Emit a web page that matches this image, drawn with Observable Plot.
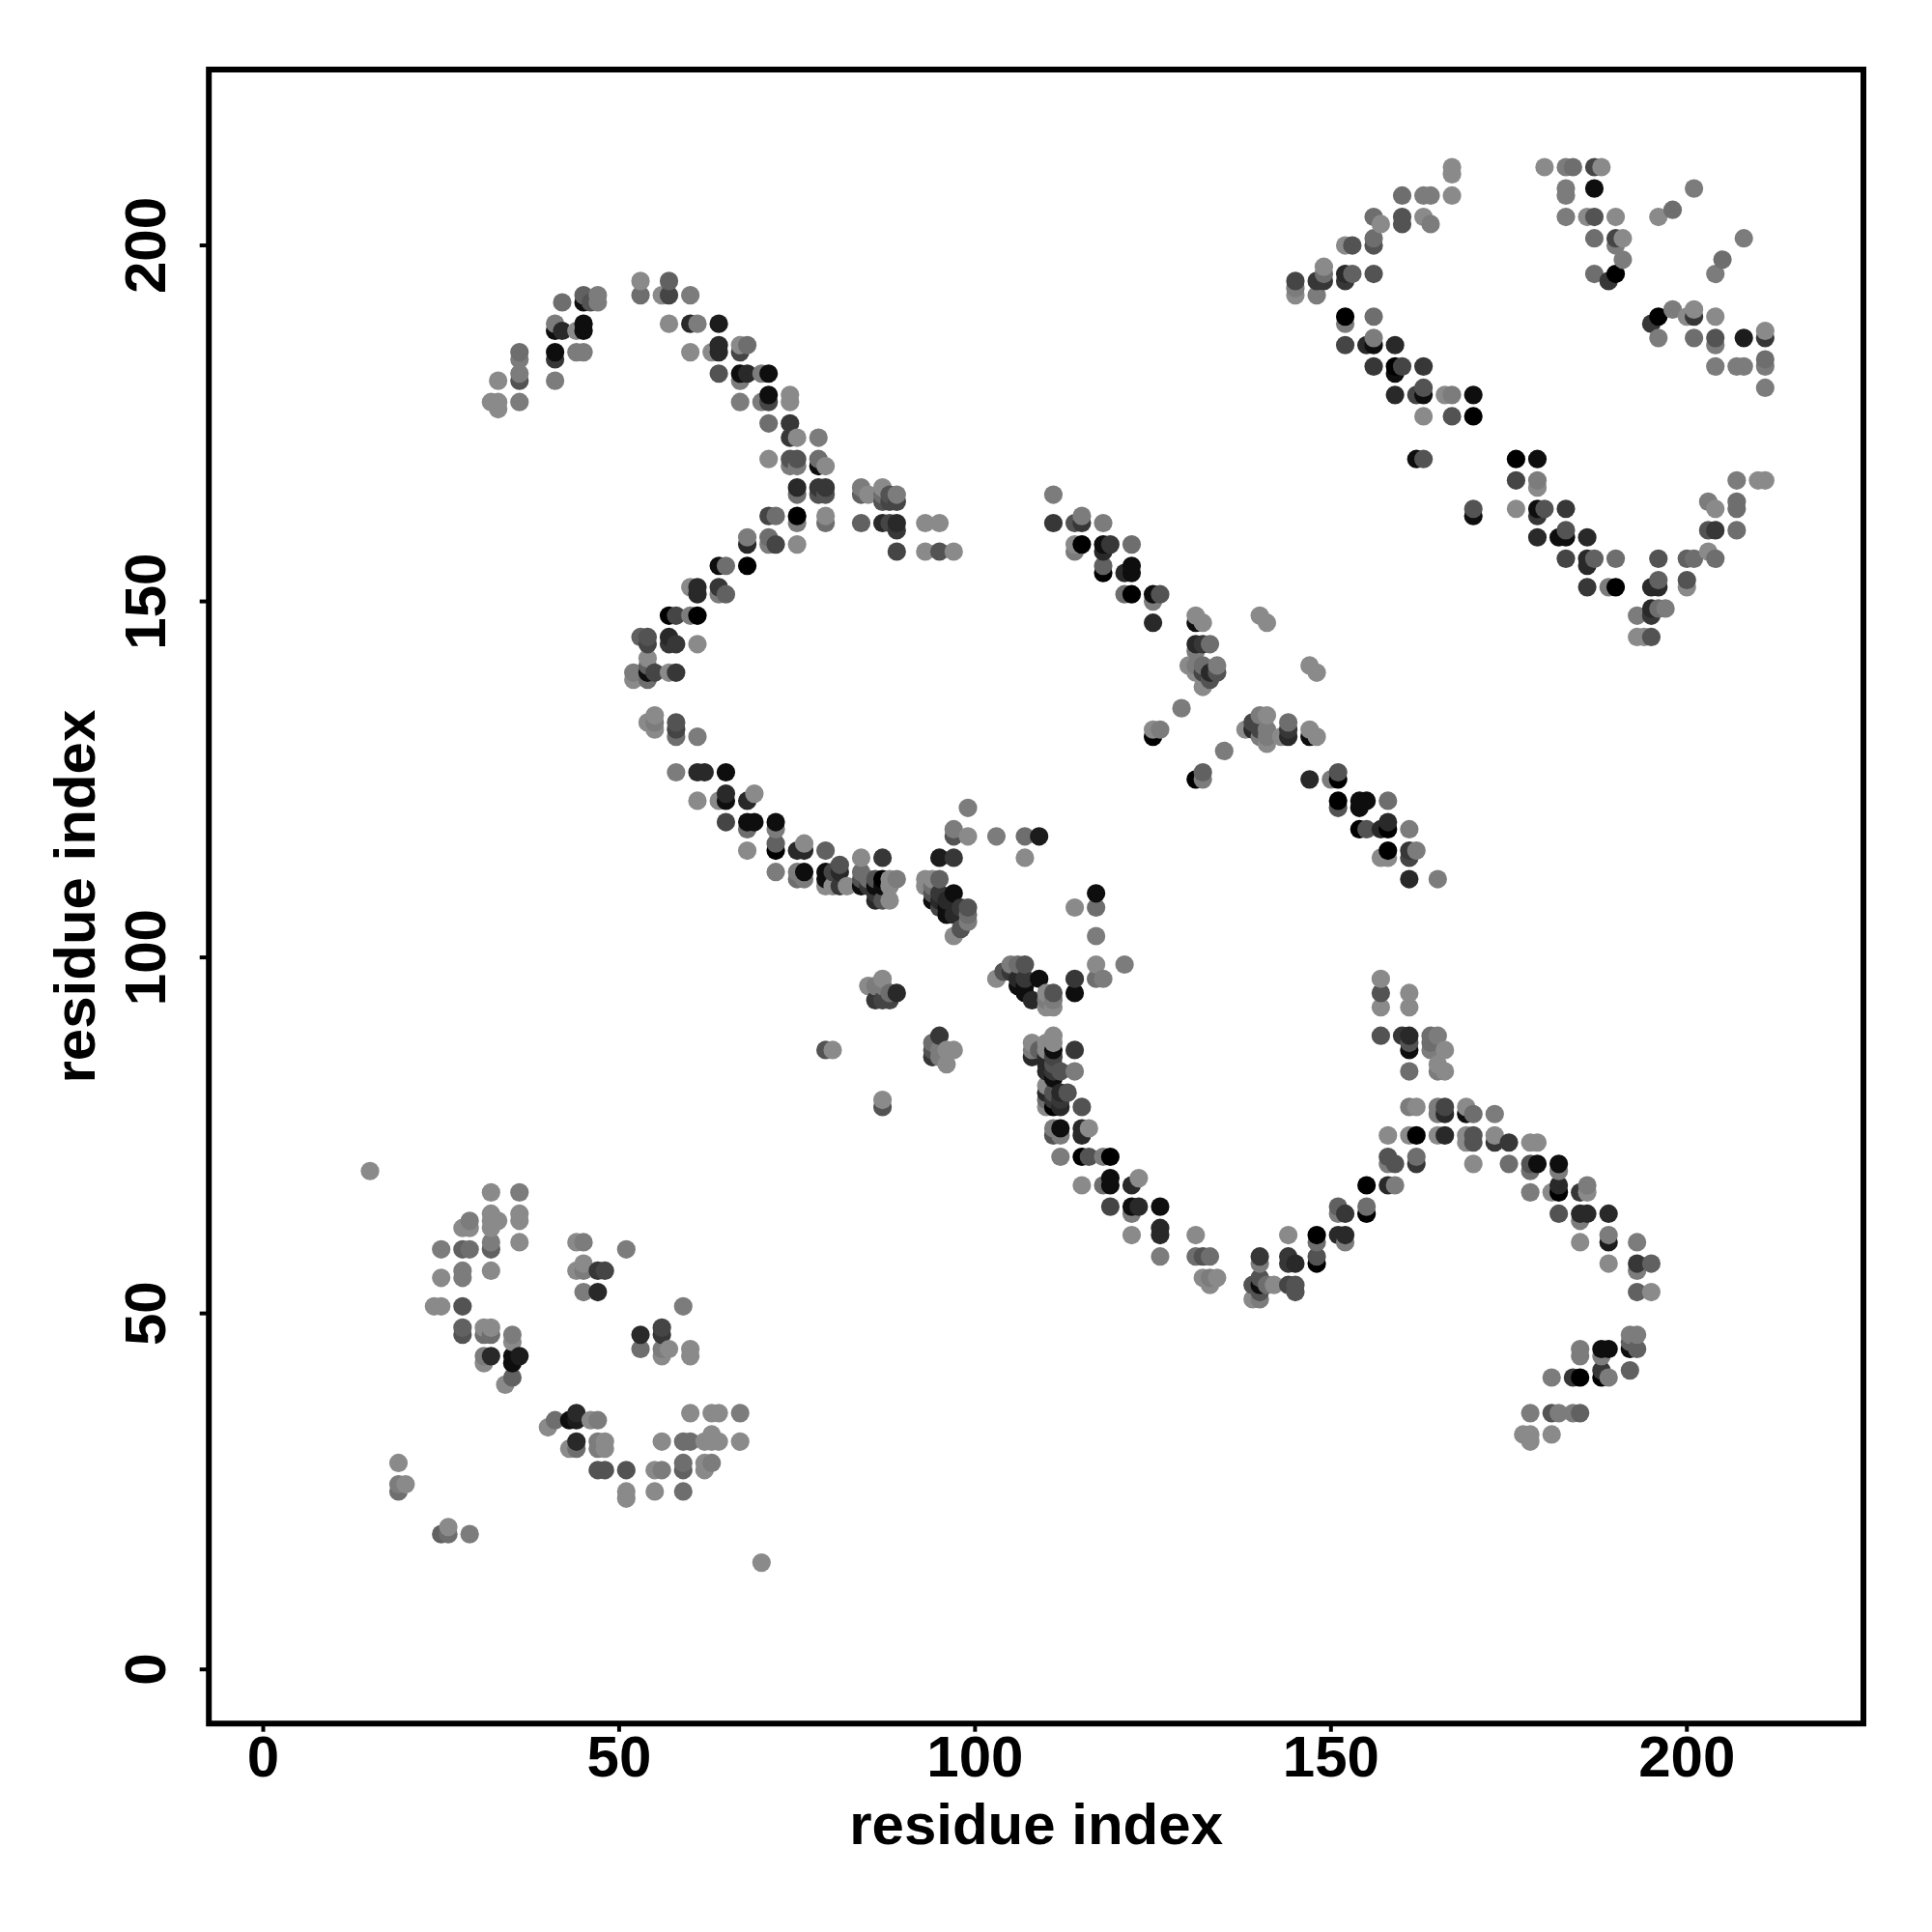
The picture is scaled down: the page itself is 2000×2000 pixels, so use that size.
<!DOCTYPE html>
<html><head><meta charset="utf-8">
<style>html,body{margin:0;padding:0;background:#fff}svg{display:block}</style>
<script src="https://cdn.jsdelivr.net/npm/d3@7"></script>
<script src="https://cdn.jsdelivr.net/npm/@observablehq/plot@0.6"></script>
</head><body><div id="chart"></div>
<script>
// Each contact: [residue i, residue j, contact score 0-10]
const xTicks = [0, 50, 100, 150, 200];
const yTicks = [0, 50, 100, 150, 200];
const axisTitle = "residue index";

const contactsLowerLeftA = [
[15,70,0],[32,67,0],[36,67,1],[29,63,1],[28,62,0],[29,62,0],[32,64,0],[32,63,0],[33,63,0],[32,62,0],[36,64,0],[36,63,0],[36,60,0],
[25,59,1],[28,59,3],[29,59,2],[32,60,1],[32,59,3],[28,56,1],[28,55,1],[25,55,0],[32,56,0],[24,51,0],[25,51,0],[28,51,4],
[28,48,3],[28,47,4],[31,48,0],[32,48,0],[31,47,2],[32,47,2],[35,47,1],[35,46,0],[31,44,1],[31,43,0],[32,44,7],[35,44,9],[36,44,8],[35,43,9],[35,41,3],[34,40,0],
[40,34,0],[41,35,2],[43,35,9],[44,36,7],[44,35,8],[46,35,0],[47,35,1],[44,32,7],[43,31,0],[44,31,2],[47,32,1],[48,32,0],[47,31,1],[48,31,0],[47,28,4],[48,28,4],[51,28,4]];
const contactsLowerLeftB = [
[51,25,0],[51,24,0],[55,28,0],[56,28,1],[55,25,0],[59,25,2],[59,29,2],[59,28,3],[62,28,0],[63,29,1],[62,29,0],
[56,32,0],[59,32,2],[60,32,2],[62,32,0],[63,33,0],[63,32,0],[64,32,0],[67,32,0],[60,36,0],[63,36,0],[64,36,0],[67,36,1],[70,15,0],
[19,29,0],[19,26,1],[19,25,2],[20,26,0],[25,19,3],[26,19,2],[26,20,0],[29,19,1],
[44,60,0],[45,60,1],[51,59,1],[44,56,0],[45,56,1],[45,57,0],[47,56,6],[48,56,5],[45,53,1],[47,53,7],
[53,47,7],[53,45,2],[56,48,5],[56,47,6],[56,45,1],[56,44,0],[57,45,0],[60,45,0],[60,44,0],[59,51,1]];
const contactsUpperLeftA = [
[53,195,0],[57,195,3],[53,193,2],[56,193,0],[57,193,5],[60,193,1],[42,192,2],[45,193,3],[45,192,9],[46,192,4],[47,193,1],[47,192,1],
[41,189,1],[41,188,9],[42,188,7],[44,188,0],[45,189,9],[45,188,9],[57,189,0],[60,189,7],[61,189,1],[64,189,8],
[36,185,2],[36,184,1],[36,182,1],[36,181,4],[33,181,0],[41,185,9],[41,184,6],[44,185,1],[45,185,1],[41,181,1],[32,178,0],[33,178,0],[33,177,0],[36,178,1],
[60,185,0],[63,185,0],[64,186,7],[64,185,7],[67,186,0],[68,186,2],[67,185,5],[64,182,4],[67,182,9],[68,182,7],[70,182,1],[71,182,9],[67,181,1],
[67,178,1],[70,178,1],[71,179,9],[71,178,5],[74,179,0],[74,178,0],[71,175,2],[74,175,6],[74,173,6],[75,173,0],[78,173,1]];
const contactsUpperLeftB = [
[71,170,0],[74,170,4],[75,170,4],[74,169,1],[75,169,1],[78,170,2],[78,169,9],[79,169,0],[75,166,7],[75,165,2],[78,166,6],[79,166,6],[78,165,4],[79,165,4],
[84,166,1],[84,165,3],[85,165,0],[87,166,0],[87,165,2],[88,165,4],[89,165,1],[87,164,4],[88,164,5],[89,164,5],
[84,161,3],[87,161,7],[88,161,5],[89,161,7],[89,160,6],[93,161,0],[95,161,0],[89,157,5],[93,157,0],[95,157,4],[97,157,0],
[71,162,5],[72,162,2],[75,162,10],[75,161,1],[79,162,0],[79,161,2],[68,159,1],[68,158,7],[71,159,2],[71,158,1],[72,158,5],[75,158,0],
[64,155,9],[65,155,2],[68,155,10],[60,152,0],[61,152,7],[61,151,7],[64,152,6],[64,151,1],[65,151,3],[57,148,10],[58,148,5],[60,148,1],[61,148,10],
[53,145,3],[54,145,4],[54,144,5],[57,145,7],[57,144,6],[58,144,6],[61,144,0],[54,142,0],[52,140,1],[54,141,3],[54,140,9],[55,140,5],[57,140,0],[58,140,6],[52,139,0],[54,139,2],
[54,133,0],[55,134,0],[55,133,1],[55,132,0],[58,133,4],[58,132,5],[58,131,2],[61,131,1]];
const contactsCentreA = [
[58,126,1],[61,126,7],[62,126,7],[65,126,9],[61,122,0],[64,122,0],[65,123,7],[65,122,9],[68,122,7],[69,123,0],[65,119,5],[68,119,9],[69,119,9],[72,119,9],[68,118,2],[72,118,1],
[68,115,0],[72,116,3],[72,115,10],[75,115,7],[76,116,0],[76,115,7],[79,115,3],[72,112,1],[75,112,1],[76,112,9],[75,111,2],[76,111,1],
[79,112,9],[79,111,9],[80,112,5],[81,113,4],[81,112,7],[79,110,0],[80,110,0],[81,110,6],[82,110,0],
[84,114,0],[87,114,6],[84,112,2],[85,111,2],[84,111,4],[84,110,9],[85,110,6],[86,111,4],[87,111,10],[88,111,0],[89,111,1],[86,110,9],[87,110,9],[88,110,0],[86,109,6],[86,108,7],[87,108,4],[88,108,0],
[93,111,0],[94,111,0],[95,111,3],[93,110,0],[94,110,2],[95,109,6],[94,109,4],[94,108,9],[95,108,7],[96,108,7],[95,107,5],[96,107,9],[97,109,9],[96,106,9],[97,106,7],[98,107,6],[99,107,4],[99,106,2],[99,105,1],[98,104,4],[97,103,0],
[95,114,8],[97,114,6],[97,118,1],[97,117,4],[99,117,0],[99,121,1],[103,117,1],[107,117,2],[109,117,8],[107,114,0]];
const contactsCentreB = [
[85,96,0],[87,97,0],[86,96,1],[87,96,1],[88,95,2],[89,95,7],[86,94,6],[87,94,5],[88,94,5],[79,87,4],[80,87,0],[87,80,0],[87,79,4],
[95,89,6],[94,88,2],[94,87,4],[94,86,6],[95,87,1],[96,87,0],[97,87,0],[96,85,0],[95,86,1],
[103,97,0],[104,98,4],[105,99,1],[106,99,2],[107,99,4],[105,98,6],[106,97,7],[107,97,6],[106,96,9],[107,96,9],[107,95,9],[109,97,9],[108,94,7],[110,95,0],[111,95,4],[110,94,1],[111,94,1],[110,93,0],[111,93,0],[114,97,6],[114,95,9],
[108,88,0],[108,87,1],[108,86,7],[109,87,3],[110,87,0],[111,89,0],[110,88,0],[111,88,0],[111,87,9],[114,87,6],[110,86,7],[111,86,5],[110,85,7],[111,85,4],[112,84,4],[114,84,1],[110,84,7],[111,84,6],[111,83,9],
[114,107,0],[117,109,9],[117,107,2],[117,103,1],[117,99,0],[121,99,1],[117,97,2],[118,97,1]];
const contactsLowerRightA = [
[157,97,0],[157,95,4],[157,93,0],[161,95,0],[161,93,0],[157,89,4],[160,89,6],[161,89,7],[161,88,4],[161,87,9],[164,89,2],[165,89,1],[164,88,2],[164,87,1],[166,87,0],[161,84,2],[165,85,0],[165,84,1],[166,84,0],
[161,79,1],[162,79,0],[165,79,1],[166,79,5],[165,78,1],[166,78,7],[169,79,0],[169,78,9],[170,78,2],[173,78,1],
[158,75,0],[161,75,0],[162,75,10],[165,75,0],[166,75,7],[169,75,0],[170,75,4],[169,74,0],[170,74,4],[173,75,0],[173,74,6],[175,74,6],[178,74,0],[179,74,0],[170,71,0],
[158,72,4],[158,71,1],[159,71,4],[162,72,2],[162,71,6],[155,68,10],[158,68,7],[159,68,1],[151,65,3],[151,64,1],[152,64,6],[155,65,2],[155,64,10],
[148,61,10],[151,61,7],[152,61,7],[148,60,2],[152,60,1],[144,61,0],[144,58,6],[145,57,7],[144,57,6],[148,58,4],[148,57,10]];
const contactsLowerRightB = [
[140,58,6],[140,57,1],[140,55,4],[139,54,4],[140,54,9],[141,54,2],[142,54,0],[144,54,5],[145,54,4],[145,53,4],[139,52,0],[140,52,1],[140,53,4],
[131,61,0],[131,58,2],[132,58,4],[133,58,2],[132,55,0],[133,55,1],[134,55,0],[133,54,0],[126,65,9],[126,62,7],[126,61,7],[126,58,1],[122,61,0],
[119,65,5],[122,65,9],[123,65,7],[122,64,1],[115,68,0],[118,68,2],[119,69,9],[119,68,9],[122,68,7],[123,69,0],[112,72,1],[115,72,10],[116,72,4],[118,72,1],[119,72,10],
[112,76,9],[111,76,1],[115,76,7],[116,76,0],[111,75,4],[112,75,1],[115,75,7],[115,79,4],[112,79,7],[111,79,10],[110,79,0],[112,81,7],[113,81,4],[111,81,4],[110,82,0],[110,81,7],[110,80,2],[111,80,6],[112,80,6],
[175,71,2],[178,71,4],[179,71,9],[178,70,2],[182,71,9],[182,70,1],[178,67,1],[181,67,0],[182,68,7],[182,67,10],[185,67,6],[186,68,1],[186,67,0],
[182,64,4],[185,64,7],[186,64,7],[185,63,1],[189,64,7],[189,61,1],[189,60,8],[185,60,0],[189,57,0],[193,60,1],[193,57,6],[193,56,1],[195,57,3],[193,53,3],[195,53,0],
[192,47,1],[193,47,1],[192,46,3],[192,45,9],[193,45,3],[192,42,3],[185,45,1],[185,44,1],[188,45,9],[189,45,9],[188,44,1],[188,42,6],[188,41,10],[189,41,1],[181,41,1],[184,41,6],[185,41,10],
[178,36,1],[181,36,4],[182,36,1],[184,36,1],[185,36,3],[177,33,0],[178,33,0],[178,32,0],[181,33,0]];
const contactsUpperRightA = [
[167,211,0],[167,210,0],[180,211,0],[183,211,1],[184,211,2],[187,211,5],[188,211,0],[183,208,1],[183,207,1],[187,208,9],[201,208,1],
[160,207,2],[163,207,1],[164,207,1],[167,207,0],[156,204,2],[157,203,0],[160,204,4],[160,203,4],[163,204,0],[164,203,1],
[183,204,1],[186,204,0],[187,204,4],[190,204,0],[196,204,0],[198,205,2],[152,200,0],[153,200,4],[156,201,2],[156,200,4],
[187,201,2],[190,201,5],[191,201,0],[190,200,1],[191,198,1],[208,201,1],[205,198,2],[204,196,1],
[149,197,0],[149,196,2],[152,196,7],[153,196,3],[156,196,4],[145,195,5],[148,195,6],[149,195,6],[152,195,6],[145,194,1],[145,193,0],[148,193,1],[187,196,2],[190,196,10],[189,195,6],
[152,190,10],[152,189,1],[156,190,2],[198,191,1],[200,190,0],[201,191,0],[201,190,6],[204,190,0],[196,190,10],[195,189,6],[196,187,1],[201,187,2],[204,187,4],[204,186,1],[208,187,8],[211,188,0],[211,187,6],
[152,186,5],[155,186,7],[156,187,1],[156,186,9],[159,186,7],[156,183,6],[159,183,10],[160,183,5],[159,182,9],[163,183,6],[204,183,1],[207,183,1],[208,183,1],[211,184,2],[211,183,1],[211,180,1]];
const contactsUpperRightB = [
[159,179,7],[162,179,5],[163,180,4],[163,179,9],[166,179,0],[167,179,1],[170,179,9],[163,176,0],[167,176,4],[170,176,10],
[162,170,9],[163,170,4],[176,170,10],[179,170,9],[176,167,5],[179,167,1],[179,166,0],[170,163,4],[170,162,9],[176,163,0],[179,163,9],[180,163,4],[183,163,6],[179,162,6],
[179,159,7],[182,159,9],[183,160,4],[183,159,9],[186,159,7],[183,156,5],[186,156,7],[187,156,3],[186,155,7],[190,156,2],[196,156,4],[200,156,3],[201,156,2],[204,156,2],[203,157,0],
[186,152,6],[189,152,1],[190,152,10],[195,152,7],[196,153,3],[196,152,7],[200,153,4],[200,152,0],[193,148,1],[195,149,7],[195,148,6],[196,149,2],[197,149,1],[193,145,0],[194,145,0],[195,145,4],
[207,167,1],[210,167,0],[211,167,0],[203,164,1],[204,163,0],[207,164,2],[207,163,2],[203,160,4],[204,160,6],[207,160,2]];
const contactsDiagonal = [
[111,165,1],[111,161,6],[114,161,4],[115,162,1],[115,161,6],[118,161,1],[114,158,0],[114,157,1],[115,158,10],[118,158,9],[119,158,6],[118,157,7],[122,158,2],
[118,155,3],[118,154,10],[121,154,7],[122,155,9],[122,154,9],[121,151,2],[122,151,10],[125,151,9],[126,151,4],[125,150,1],[125,147,7],[131,148,0],[131,147,9],[132,147,0],
[131,144,7],[132,144,6],[133,144,2],[131,143,1],[130,141,0],[131,141,1],[132,141,2],[134,141,1],[131,140,0],[132,140,5],[133,140,7],[134,140,4],[133,139,4],[132,138,0],
[140,148,0],[141,147,0],[147,141,0],[148,140,0],[129,135,1],[126,132,1],[125,132,0],[125,131,10],[135,129,1],
[139,133,5],[140,134,1],[141,134,0],[138,132,0],[139,132,7],[140,132,5],[141,132,1],[140,131,1],[141,131,1],[141,130,0],[143,131,0],[144,133,2],[144,132,6],[144,131,7],[147,132,0],[147,131,9],[148,131,0],
[131,125,10],[132,126,3],[132,125,1],[147,125,7],[150,125,1],[151,126,4],[151,125,10],[151,122,10],[151,121,4],[154,122,9],[155,122,9],[154,121,9],[158,122,2],
[154,118,10],[155,118,4],[157,118,7],[158,119,7],[158,118,10],[161,118,1],[157,114,0],[158,115,10],[158,114,0],[161,115,6],[162,115,1],[161,114,5],[161,111,7],[165,111,1]];

const rows = d3.sort(
  [...contactsLowerLeftA, ...contactsLowerLeftB, ...contactsUpperLeftA, ...contactsUpperLeftB,
   ...contactsCentreA, ...contactsCentreB, ...contactsLowerRightA, ...contactsLowerRightB,
   ...contactsUpperRightA, ...contactsUpperRightB, ...contactsDiagonal].map(([i, j, score]) => ({i, j, score})),
  d => d.i, d => d.j);

const font = "'Liberation Sans', Arial, sans-serif";
const chart = Plot.plot({
  width: 2000, height: 2000,
  marginLeft: 215.7, marginRight: 71.5, marginTop: 71.5, marginBottom: 216.3,
  style: {fontFamily: font, fontWeight: "bold", background: "#fff", color: "#000"},
  x: {domain: [-7.64, 224.8]},
  y: {domain: [-7.6, 224.7]},
  color: {type: "linear", domain: [0, 10], range: ["#8a8a8a", "#000000"], legend: false},
  marks: [
    Plot.dot(rows, {x: "i", y: "j", fill: "score", r: 9.6, stroke: "none"}),
    Plot.frame({stroke: "#000", strokeWidth: 6}),
    Plot.axisX({ticks: xTicks, tickFormat: d3.format("d"), tickSize: 9, tickPadding: 3, strokeWidth: 4, fontSize: 60,
      label: axisTitle, labelAnchor: "center", labelArrow: "none", labelOffset: 125}),
    Plot.axisY({ticks: yTicks, tickFormat: d3.format("d"), tickSize: 9, tickPadding: 36, strokeWidth: 4, fontSize: 60, tickRotate: -90,
      textAnchor: "middle", label: axisTitle, labelAnchor: "center", labelArrow: "none", labelOffset: 161})
  ]
});
document.getElementById("chart").appendChild(chart);
</script></body></html>
